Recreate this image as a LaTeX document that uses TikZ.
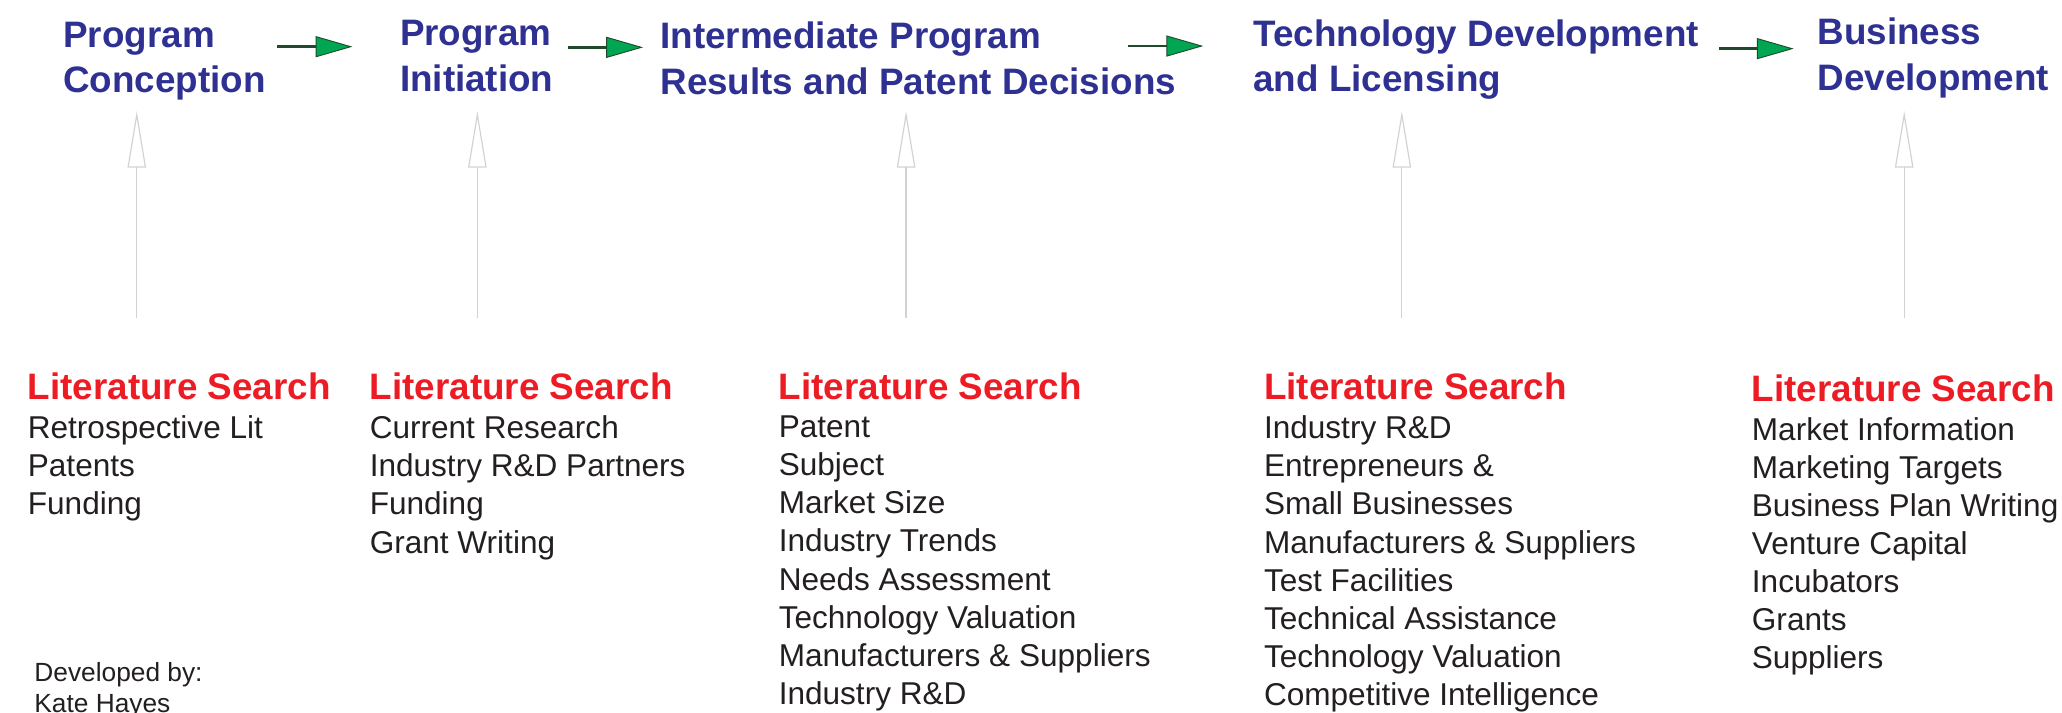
\documentclass[tikz,border=0pt]{standalone}
\usepackage{fontspec}
\setmainfont{Liberation Sans}
\usetikzlibrary{arrows.meta}

\definecolor{headblue}{HTML}{2E3192}
\definecolor{litred}{HTML}{ED1C24}
\definecolor{bodytext}{HTML}{231F20}
\definecolor{flowgreen}{HTML}{00A651}
\definecolor{flowline}{HTML}{1F4A2C}
\definecolor{supportgray}{HTML}{D2D2D2}

\begin{document}
\begin{tikzpicture}[x=1pt,y=-1pt,
  stage/.style={anchor=north west, inner sep=0pt, align=left, text=headblue,
    font=\bfseries\fontsize{28}{34.5}\selectfont},
  littitle/.style={anchor=base west, inner sep=0pt, text=litred,
    font=\bfseries\fontsize{28}{34}\selectfont},
  itemlist/.style={anchor=north west, inner sep=0pt, align=left, text=bodytext,
    font=\fontsize{24}{29}\selectfont},
  credit/.style={anchor=north west, inner sep=0pt, align=left, text=bodytext,
    font=\fontsize{20}{23.6}\selectfont},
  flowarrow/.style={draw=flowline, line width=2pt,
    -{Triangle[length=28pt, width=16pt, fill=flowgreen, line width=0.7pt]}},
  supportarrow/.style={draw=supportgray, line width=0.9pt,
    -{Triangle[open, length=43pt, width=14pt, line width=0.9pt]}}
]
\useasboundingbox (0,0) rectangle (1568,542);
\clip (0,0) rectangle (1568,542);

% Stage headings
\node[stage] (s1) at (48,16.5)   {Program\\Conception};
\node[stage] (s2) at (304,15.5)  {Program\\Initiation};
\node[stage] (s3) at (502,16.5)  {Intermediate Program\\Results and Patent Decisions};
\node[stage] (s4) at (953,14.5)  {Technology Development\\and Licensing};
\node[stage] (s5) at (1382,13.5) {Business\\Development};

% Flow arrows between stages
\coordinate (f1a) at (211,35.5);  \coordinate (f1b) at (268,35.5);
\coordinate (f2a) at (432,36);    \coordinate (f2b) at (489,36);
\coordinate (f3a) at (858,35);    \coordinate (f3b) at (915,35);
\coordinate (f4a) at (1307,37);   \coordinate (f4b) at (1364,37);
\draw[flowarrow] (f1a) -- (f1b);
\draw[flowarrow] (f2a) -- (f2b);
\draw[flowarrow] (f3a) -- (f3b);
\draw[flowarrow] (f4a) -- (f4b);

% Literature search titles
\node[littitle] (l1) at (21,303.5)   {Literature Search};
\node[littitle] (l2) at (281,303.5)  {Literature Search};
\node[littitle] (l3) at (592,303.5)  {Literature Search};
\node[littitle] (l4) at (961,303.5)  {Literature Search};
\node[littitle] (l5) at (1332,305) {Literature Search};

% Resource lists
\node[itemlist] (r1) at (21,316)  {Retrospective Lit\\Patents\\Funding};
\node[itemlist] (r2) at (281,316) {Current Research\\Industry R\&D Partners\\Funding\\Grant Writing};
\node[itemlist] (r3) at (592,316) {Patent\\Subject\\Market Size\\Industry Trends\\Needs Assessment\\Technology Valuation\\Manufacturers \& Suppliers\\Industry R\&D};
\node[itemlist] (r4) at (961,316) {Industry R\&D\\Entrepreneurs \&\\Small Businesses\\Manufacturers \& Suppliers\\Test Facilities\\Technical Assistance\\Technology Valuation\\Competitive Intelligence};
\node[itemlist] (r5) at (1332,317) {Market Information\\Marketing Targets\\Business Plan Writing\\Venture Capital\\Incubators\\Grants\\Suppliers};

% Support arrows from resources up to stages
\coordinate (u1a) at (104,242);  \coordinate (u1b) at (104,84.5);
\coordinate (u2a) at (363,242);  \coordinate (u2b) at (363,84.5);
\coordinate (u3a) at (689,242);  \coordinate (u3b) at (689,84.5);
\coordinate (u4a) at (1066,242); \coordinate (u4b) at (1066,84.5);
\coordinate (u5a) at (1448,242); \coordinate (u5b) at (1448,84.5);
\draw[supportarrow] (u1a) -- (u1b);
\draw[supportarrow] (u2a) -- (u2b);
\draw[supportarrow] (u3a) -- (u3b);
\draw[supportarrow] (u4a) -- (u4b);
\draw[supportarrow] (u5a) -- (u5b);

% Credit line
\node[credit] (dev) at (26,503.5) {Developed by:\\Kate Hayes};
\end{tikzpicture}
\end{document}
